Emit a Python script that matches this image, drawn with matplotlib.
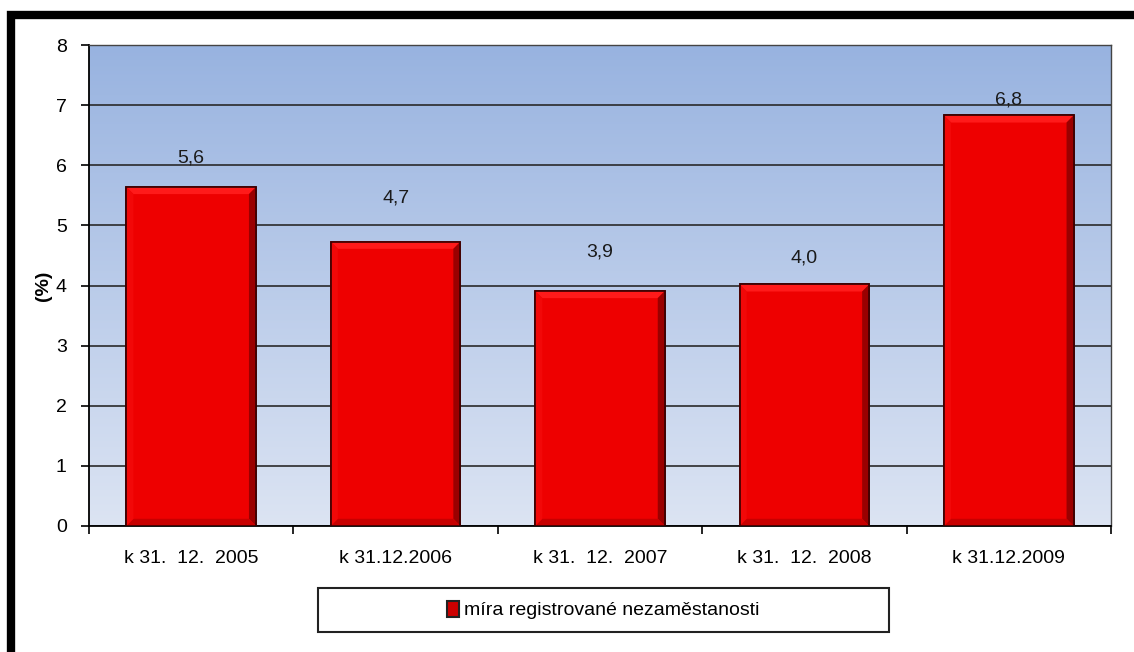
import numpy as np
import matplotlib
matplotlib.use("Agg")
import matplotlib.pyplot as plt
from matplotlib.patches import Rectangle, Polygon

categories = ["k 31.  12.  2005", "k 31.12.2006", "k 31.  12.  2007", "k 31.  12.  2008", "k 31.12.2009"]
values = [5.64, 4.73, 3.91, 4.02, 6.83]
value_labels = ["5,6", "4,7", "3,9", "4,0", "6,8"]
series_name = "míra registrované nezaměstanosti"
y_ticks = [0, 1, 2, 3, 4, 5, 6, 7, 8]

plt.rcParams['font.family'] = ['Liberation Sans', 'DejaVu Sans']

W, H = 1134, 652
fig = plt.figure(figsize=(W / 100, H / 100), dpi=100)
fig.patch.set_facecolor("white")

ax = fig.add_axes([89 / W, 1 - 526 / H, (1111 - 89) / W, (526 - 45) / H])
n = len(categories)
ax.set_xlim(-0.5, n - 0.5)
ax.set_ylim(0, 8)

# gradient background
grad = np.linspace(0, 1, 256)[:, None]
top = np.array([152, 179, 224]) / 255
bot = np.array([220, 228, 243]) / 255
img = bot[None, None, :] * (1 - grad[:, :, None]) + top[None, None, :] * grad[:, :, None]
ax.imshow(img, extent=[-0.5, n - 0.5, 0, 8], origin="lower", aspect="auto", zorder=0)

for t in y_ticks:
    ax.axhline(t, color="#2a2a2a", lw=1.2, zorder=1)

x = np.arange(n)
bw = 0.635
ax.bar(x, values, width=bw, color="#EE0000", edgecolor="#3a0000", linewidth=1.2, zorder=2)

# bevel effect
bx = 0.035
by = 0.12
for xi, v in zip(x, values):
    l, r = xi - bw / 2, xi + bw / 2
    ax.add_patch(Polygon([[l, v], [r, v], [r - bx, v - by], [l + bx, v - by]],
                         closed=True, facecolor="#FF1A1A", edgecolor="none", zorder=3))
    ax.add_patch(Polygon([[r, v], [r, 0], [r - bx, by], [r - bx, v - by]],
                         closed=True, facecolor="#9A0000", edgecolor="none", zorder=3))
    ax.add_patch(Polygon([[l, 0], [r, 0], [r - bx, by], [l + bx, by]],
                         closed=True, facecolor="#C80000", edgecolor="none", zorder=3))
    ax.add_patch(Polygon([[l, 0], [l, v], [l + bx, v - by], [l + bx, by]],
                         closed=True, facecolor="#F20808", edgecolor="none", zorder=3))
    ax.add_patch(Rectangle((l, 0), bw, v, facecolor="none", edgecolor="#3a0000", lw=1.2, zorder=4))

label_offsets = [15, 25, 22, 13, 5]
for xi, v, lab, off in zip(x, values, value_labels, label_offsets):
    ax.annotate(lab, (xi, v), xytext=(0, off), textcoords="offset points",
                ha="center", va="bottom", fontsize=14, color="#1a1a1a", zorder=5)

ax.set_yticks(y_ticks)
ax.set_yticklabels([str(t) for t in y_ticks], fontsize=14)
ax.set_xticks(x)
ax.set_xticklabels(categories, fontsize=14)
ax.set_xticks(np.arange(-0.5, n, 1.0), minor=True)
ax.tick_params(axis="x", which="major", length=0, pad=17)
ax.tick_params(axis="x", which="minor", length=6, width=1.2, direction="out", color="black")
ax.tick_params(axis="y", length=6, width=1.2, direction="out", color="black", pad=10)

for s in ["left", "bottom"]:
    ax.spines[s].set_color("black")
    ax.spines[s].set_linewidth(1.3)
for s in ["top", "right"]:
    ax.spines[s].set_color("#444444")
    ax.spines[s].set_linewidth(1.0)

ax.set_ylabel("(%)", fontsize=14, fontweight="bold", labelpad=3)

# legend
handle = Rectangle((0, 0), 1, 1, facecolor="#CC0000", edgecolor="#222222", lw=1.5)
fig.legend([handle], [series_name], loc="center",
           bbox_to_anchor=(603.5 / W, 1 - 610 / H), frameon=False,
           fontsize=14, handlelength=0.6, handleheight=0.9, handletextpad=0.3)
fig.add_artist(Rectangle((318 / W, 1 - 632 / H), 571 / W, 44 / H, transform=fig.transFigure,
                         facecolor="none", edgecolor="#222222", lw=1.5))

# outer black frame
fig.add_artist(Rectangle((11 / W, -0.2), 1.3, 1 - 15 / H + 0.2, transform=fig.transFigure,
                         facecolor="none", edgecolor="black", lw=6, clip_on=False))

fig.savefig("out.png", dpi=100)
